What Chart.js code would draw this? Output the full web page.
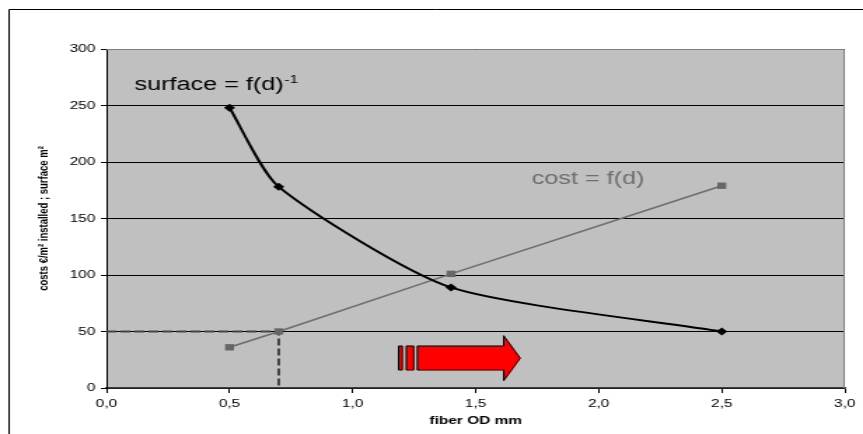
<!DOCTYPE html>
<html>
<head>
<meta charset="utf-8">
<script src="https://cdn.jsdelivr.net/npm/chart.js@4/dist/chart.umd.min.js"></script>
<style>
  html, body { margin: 0; padding: 0; background: #fff; overflow: hidden; }
  /* the reference is stretched sideways, so the chart is drawn narrow and widened */
  #wrap { width: 616px; height: 434px; transform: scaleX(1.401); transform-origin: 0 0; }
</style>
</head>
<body>
<div id="wrap"><canvas id="chart" width="616" height="434"></canvas></div>
<script>
const fiberOD = [0.5, 0.7, 1.4, 2.5];
const surfaceValues = [248, 178, 89, 50];
const costValues = [36, 50, 101, 179];
const guideX = [0, 0.7, 0.7];
const guideY = [50, 50, 0];

const FONT = "'Liberation Sans', Arial, sans-serif";

function points(xs, ys) {
    return xs.map((x, i) => ({ x: x, y: ys[i] }));
}

// annotation anchors in data units
const surfaceLabel = { x: 0.114, y: 263.7 };
const costLabel = { x: 1.728, y: 180.5 };
const arrow = {
    bars: [[1.187, 1.202], [1.218, 1.248]],
    bodyStart: 1.263, bodyEnd: 1.614, tip: 1.681,
    bodyLow: 15.9, bodyHigh: 37.2, headLow: 6.5, headHigh: 46.3
};

const decor = {
    id: 'decor',
    beforeDraw(chart) {
        const { ctx, chartArea: a } = chart;
        ctx.save();
        ctx.fillStyle = '#fff';
        ctx.fillRect(0, 0, chart.width, chart.height);
        ctx.strokeStyle = '#000';
        ctx.lineWidth = 1;
        ctx.beginPath();
        ctx.moveTo(6.5, chart.height);
        ctx.lineTo(6.5, 9.5);
        ctx.lineTo(chart.width, 9.5);
        ctx.stroke();
        ctx.fillStyle = '#c0c0c0';
        ctx.fillRect(a.left, a.top, a.right - a.left, a.bottom - a.top);
        ctx.restore();
    },
    afterDatasetsDraw(chart) {
        const { ctx } = chart;
        const xs = chart.scales.x, ys = chart.scales.y;
        const px = v => xs.getPixelForValue(v);
        const py = v => ys.getPixelForValue(v);
        ctx.save();

        // red arrow
        ctx.fillStyle = '#ff0000';
        ctx.strokeStyle = '#000';
        ctx.lineWidth = 1;
        arrow.bars.forEach(b => {
            ctx.beginPath();
            ctx.rect(px(b[0]), py(arrow.bodyHigh), px(b[1]) - px(b[0]), py(arrow.bodyLow) - py(arrow.bodyHigh));
            ctx.fill();
            ctx.stroke();
        });
        const mid = (arrow.headLow + arrow.headHigh) / 2;
        ctx.beginPath();
        ctx.moveTo(px(arrow.bodyStart), py(arrow.bodyHigh));
        ctx.lineTo(px(arrow.bodyEnd), py(arrow.bodyHigh));
        ctx.lineTo(px(arrow.bodyEnd), py(arrow.headHigh));
        ctx.lineTo(px(arrow.tip), py(mid));
        ctx.lineTo(px(arrow.bodyEnd), py(arrow.headLow));
        ctx.lineTo(px(arrow.bodyEnd), py(arrow.bodyLow));
        ctx.lineTo(px(arrow.bodyStart), py(arrow.bodyLow));
        ctx.closePath();
        ctx.fill();
        ctx.stroke();

        // curve labels
        ctx.textBaseline = 'alphabetic';
        ctx.textAlign = 'left';
        ctx.fillStyle = '#000';
        ctx.font = '18px ' + FONT;
        const sx = px(surfaceLabel.x), sy = py(surfaceLabel.y);
        const main = 'surface = f(d)';
        ctx.fillText(main, sx, sy);
        const w = ctx.measureText(main).width;
        ctx.font = '11px ' + FONT;
        ctx.fillText('-1', sx + w + 0.5, sy - 7);

        ctx.fillStyle = '#6e6e6e';
        ctx.font = '18px ' + FONT;
        ctx.fillText('cost = f(d)', px(costLabel.x), py(costLabel.y));
        ctx.restore();
    },
    afterDraw(chart) {
        const { ctx, chartArea: a } = chart;
        ctx.save();
        ctx.strokeStyle = '#808080';
        ctx.lineWidth = 1;
        ctx.beginPath();
        ctx.moveTo(a.left, a.top + 0.5);
        ctx.lineTo(a.right - 0.5, a.top + 0.5);
        ctx.lineTo(a.right - 0.5, a.bottom);
        ctx.stroke();
        ctx.restore();
    }
};

new Chart(document.getElementById('chart'), {
    type: 'line',
    data: {
        datasets: [
            {
                label: 'surface',
                data: points(fiberOD, surfaceValues),
                borderColor: '#000',
                backgroundColor: '#000',
                borderWidth: 2,
                tension: 0.22,
                pointStyle: 'rectRot',
                pointRadius: 4,
                pointBorderWidth: 0
            },
            {
                label: 'cost',
                data: points(fiberOD, costValues),
                borderColor: '#6e6e6e',
                backgroundColor: '#666',
                borderWidth: 1.6,
                tension: 0,
                pointStyle: 'rect',
                pointRadius: 4.5,
                pointBorderWidth: 0
            },
            {
                label: 'guide',
                data: points(guideX, guideY),
                borderColor: '#444',
                borderWidth: 2,
                borderDash: [7, 3],
                tension: 0,
                pointRadius: 0
            }
        ]
    },
    options: {
        responsive: false,
        animation: false,
        events: [],
        layout: { padding: { left: 0, right: 13, top: 49, bottom: 0 } },
        plugins: { legend: { display: false }, tooltip: { enabled: false } },
        scales: {
            x: {
                type: 'linear',
                min: 0,
                max: 3,
                afterFit: s => { s.height = 46; },
                ticks: {
                    stepSize: 0.5,
                    color: '#000',
                    padding: 4,
                    maxRotation: 0,
                    font: { family: FONT, size: 11 },
                    callback: v => v.toFixed(1).replace('.', ',')
                },
                grid: { drawOnChartArea: false, drawTicks: true, tickLength: 5, color: '#000' },
                border: { color: '#404040', width: 1.5 },
                title: {
                    display: true,
                    text: 'fiber OD mm',
                    color: '#000',
                    font: { family: FONT, size: 11, weight: 'bold' },
                    padding: { top: 0, bottom: 6 }
                }
            },
            y: {
                min: 0,
                max: 300,
                afterFit: s => { s.width = 76; },
                ticks: {
                    stepSize: 50,
                    color: '#000',
                    padding: 4,
                    font: { family: FONT, size: 11 }
                },
                grid: { color: '#000', lineWidth: 1, tickLength: 4 },
                border: { color: '#000', width: 1 },
                title: {
                    display: true,
                    text: 'costs €/m² installed ; surface m²',
                    color: '#000',
                    font: { family: FONT, size: 9.5, weight: 'bold' },
                    padding: { top: 26, bottom: 0 }
                }
            }
        }
    },
    plugins: [decor]
});
</script>
</body>
</html>
